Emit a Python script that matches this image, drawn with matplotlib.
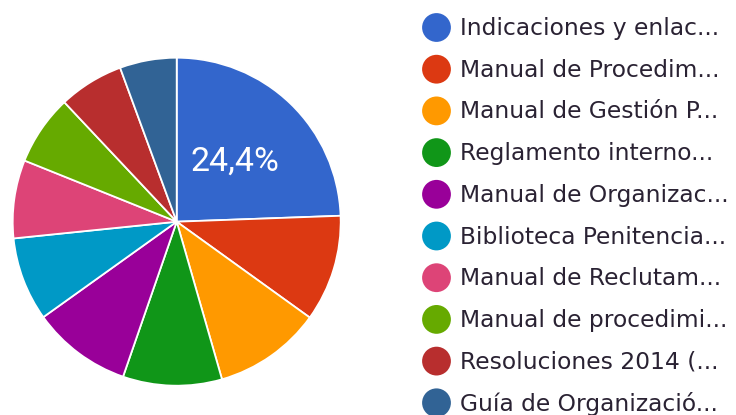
import matplotlib
matplotlib.use("Agg")
import matplotlib.pyplot as plt

plt.rcParams['font.family'] = ['Roboto', 'DejaVu Sans']

labels = [
    "Indicaciones y enlac...",
    "Manual de Procedim...",
    "Manual de Gestión P...",
    "Reglamento interno...",
    "Manual de Organizac...",
    "Biblioteca Penitencia...",
    "Manual de Reclutam...",
    "Manual de procedimi...",
    "Resoluciones 2014 (...",
    "Guía de Organizació...",
]
shares = [24.4, 10.5, 10.6, 9.75, 9.8, 8.25, 7.7, 6.9, 6.4, 5.6]
colors = ["#3366cc", "#dc3912", "#ff9900", "#109618", "#990099",
          "#0099c6", "#dd4477", "#66aa00", "#b82e2e", "#316395"]

W, H = 736, 415
fig = plt.figure(figsize=(W / 100, H / 100), dpi=100)

# pie placed by pixel centre and radius
cx, cy, r = 176.7, 221.7, 164
ax = fig.add_axes([(cx - r) / W, (H - cy - r) / H, 2 * r / W, 2 * r / H])


def pct_label(p):
    # only the big slice gets a label, like the original
    return f"{p:.1f}%".replace(".", ",") if p > 15 else ""


wedges, _, autotexts = ax.pie(
    shares, colors=colors, startangle=90, counterclock=False,
    autopct=pct_label, pctdistance=0.51,
    wedgeprops=dict(edgecolor="white", linewidth=1.3),
)
for t in autotexts:
    t.set_color("white")
    t.set_fontsize(24.5)
ax.set_xlim(-1, 1)
ax.set_ylim(-1, 1)
ax.set_aspect("equal")
ax.axis("off")

# legend, drawn in pixel coordinates
lax = fig.add_axes([0, 0, 1, 1])
lax.set_xlim(0, W)
lax.set_ylim(H, 0)
lax.axis("off")
row0, step = 27.5, 41.7
for i, (lab, col) in enumerate(zip(labels, colors)):
    y = row0 + i * step
    lax.scatter([436.5], [y], s=430, color=col, edgecolors="none")
    lax.text(460, y + 1, lab, fontsize=16.8, color="#2a2233", va="center",
             ha="left", family=["DejaVu Sans"])

fig.savefig("out.png", dpi=100)
